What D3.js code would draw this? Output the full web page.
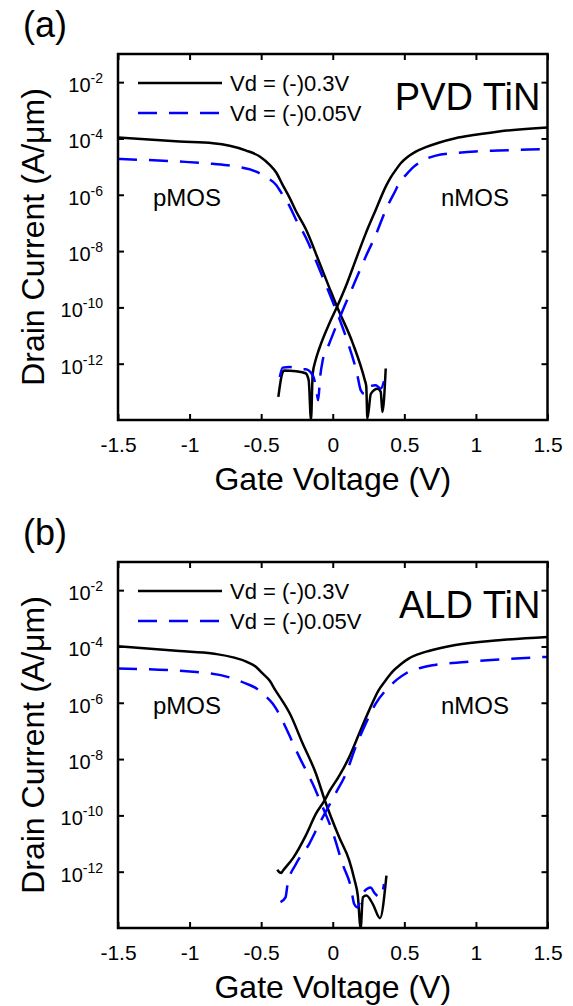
<!DOCTYPE html>
<html>
<head>
<meta charset="utf-8">
<script src="https://cdn.jsdelivr.net/npm/d3@7"></script>
<style>
body { margin: 0; background: #fff; }
text { font-family: "Liberation Sans", Arial, sans-serif; fill: #000; }
</style>
</head>
<body>
<div id="chart"></div>
<script>
// axis ticks and labels
var xTicks = [-1.5, -1, -0.5, 0, 0.5, 1, 1.5];
var yTickExp = [-2, -4, -6, -8, -10, -12];
var legendLabels = ["Vd = (-)0.3V", "Vd = (-)0.05V"];
var panelTags = ["(a)", "(b)"];
var panelNames = ["PVD TiN", "ALD TiN"];

// [gate voltage (V), log10 drain current (A/um)]
var pvdP03 = [[-1.5, -3.97], [-1.07, -4.11], [-0.836, -4.17], [-0.72, -4.26], [-0.604, -4.43], [-0.51, -4.64],
    [-0.44, -4.94], [-0.395, -5.21], [-0.35, -5.65], [-0.3, -6.12], [-0.26, -6.55], [-0.19, -7.2], [-0.09, -8.45],
    [-0.02, -9.35], [0.03, -9.98], [0.138, -11.25], [0.224, -12.59], [0.234, -12.8], [0.242, -13.95],
    [0.266, -13.07], [0.312, -12.89], [0.335, -13.0], [0.347, -13.72], [0.37, -12.17]];
var pvdP005 = [[-1.5, -4.73], [-1.07, -4.82], [-0.84, -4.9], [-0.674, -5.0], [-0.535, -5.18], [-0.454, -5.41],
    [-0.395, -5.65], [-0.35, -6.01], [-0.3, -6.42], [-0.26, -6.85], [-0.19, -7.5], [-0.09, -8.68], [0.0, -9.8],
    [0.092, -11.05], [0.17, -12.36], [0.196, -12.95], [0.22, -13.07], [0.24, -12.83], [0.3, -12.77],
    [0.335, -12.88], [0.365, -12.47]];
var pvdN03 = [[-0.38, -13.18], [-0.354, -12.36], [-0.34, -12.24], [-0.256, -12.27], [-0.19, -12.34],
    [-0.168, -12.59], [-0.152, -14.0], [-0.14, -12.36], [-0.12, -11.88], [-0.094, -11.46], [-0.024, -10.57],
    [0.03, -9.98], [0.09, -9.27], [0.16, -8.32], [0.23, -7.38], [0.3, -6.54], [0.37, -5.71], [0.405, -5.38],
    [0.44, -5.12], [0.475, -4.88], [0.52, -4.67], [0.58, -4.47], [0.65, -4.31], [0.74, -4.15], [0.857, -3.99],
    [0.997, -3.87], [1.16, -3.75], [1.5, -3.61]];
var pvdN005 = [[-0.37, -12.47], [-0.35, -12.14], [-0.3, -12.12], [-0.23, -12.2], [-0.19, -12.2], [-0.14, -12.41],
    [-0.117, -12.83], [-0.102, -13.3], [-0.088, -12.47], [-0.07, -11.88], [-0.024, -11.28], [0.022, -10.69],
    [0.09, -9.86], [0.16, -9.03], [0.23, -8.2], [0.3, -7.43], [0.37, -6.54], [0.44, -5.83], [0.463, -5.59],
    [0.51, -5.3], [0.567, -5.0], [0.625, -4.79], [0.72, -4.61], [0.857, -4.52], [0.997, -4.46], [1.16, -4.43],
    [1.5, -4.37]];

var aldP03 = [[-1.5, -3.99], [-1.07, -4.16], [-0.84, -4.25], [-0.6, -4.55], [-0.535, -4.73], [-0.49, -4.96],
    [-0.44, -5.22], [-0.4, -5.56], [-0.35, -5.95], [-0.3, -6.38], [-0.21, -7.45], [-0.117, -8.52],
    [-0.055, -9.47], [0.045, -10.78], [0.115, -11.6], [0.15, -12.25], [0.175, -12.85], [0.195, -14.0],
    [0.21, -12.91], [0.235, -12.85], [0.28, -13.15], [0.33, -13.65], [0.375, -12.14]];
var aldP005 = [[-1.5, -4.78], [-0.976, -4.9], [-0.72, -5.1], [-0.604, -5.32], [-0.53, -5.5], [-0.477, -5.73],
    [-0.42, -6.03], [-0.372, -6.42], [-0.33, -6.86], [-0.233, -7.93], [-0.14, -8.88], [-0.07, -9.71],
    [0.0, -10.6], [0.068, -11.72], [0.127, -12.56], [0.15, -13.15], [0.173, -13.27], [0.207, -12.79],
    [0.266, -12.56], [0.289, -12.74], [0.335, -12.91], [0.358, -12.44]];
var aldN03 = [[-0.388, -11.93], [-0.36, -12.05], [-0.35, -11.98], [-0.275, -11.5], [-0.187, -10.7],
    [-0.117, -9.94], [-0.055, -9.45], [-0.024, -9.15], [0.045, -8.6], [0.115, -7.93], [0.184, -7.1],
    [0.254, -6.27], [0.32, -5.56], [0.37, -5.2], [0.416, -4.9], [0.475, -4.63], [0.53, -4.43], [0.6, -4.27],
    [0.67, -4.16], [0.857, -3.95], [1.16, -3.78], [1.5, -3.66]];
var aldN005 = [[-0.365, -13.08], [-0.33, -12.91], [-0.315, -12.43], [-0.256, -11.72], [-0.164, -11.01],
    [-0.094, -10.3], [-0.05, -9.88], [0.022, -9.2], [0.092, -8.52], [0.16, -7.57], [0.23, -6.74], [0.3, -6.03],
    [0.393, -5.44], [0.45, -5.17], [0.51, -4.96], [0.6, -4.78], [0.695, -4.67], [0.927, -4.55], [1.16, -4.46],
    [1.5, -4.37]];

var panels = [
    { tag: panelTags[0], name: panelNames[0], top: 54, solid: [pvdP03, pvdN03], dashed: [pvdP005, pvdN005] },
    { tag: panelTags[1], name: panelNames[1], top: 562, solid: [aldP03, aldN03], dashed: [aldP005, aldN005] }
];

var left = 118,
    width = 429.5,
    height = 366;

var svg = d3.select("#chart").append("svg")
    .attr("width", 573)
    .attr("height", 1006)
    .style("background", "#fff");

var x = d3.scaleLinear().domain([-1.5, 1.5]).range([0, width]);
var y = d3.scaleLog().domain([1e-14, 1e-1]).range([height, 0]);

var line = d3.line()
    .curve(d3.curveMonotoneX)
    .x(function (d) { return x(d[0]); })
    .y(function (d) { return y(Math.pow(10, d[1])); });

panels.forEach(function (p, i) {
    var g = svg.append("g")
        .attr("transform", "translate(" + left + "," + p.top + ")");

    g.append("clipPath").attr("id", "clip" + i)
        .append("rect").attr("width", width).attr("height", height);

    // panel tag
    svg.append("text")
        .attr("x", 23)
        .attr("y", p.top - 17)
        .style("font-size", "36px")
        .text(p.tag);

    // axes, ticks pointing inward
    var yTicks = yTickExp.map(function (e) { return Math.pow(10, e); });
    var axes = [
        [d3.axisBottom(x).tickValues(xTicks), "translate(0," + height + ")"],
        [d3.axisTop(x).tickValues(xTicks), null],
        [d3.axisLeft(y).tickValues(yTicks), null],
        [d3.axisRight(y).tickValues(yTicks), "translate(" + width + ",0)"]
    ];
    axes.forEach(function (a, k) {
        var ax = g.append("g")
            .attr("transform", a[1])
            .call(a[0].tickSizeInner(-6).tickSizeOuter(0)
                .tickFormat(k === 0 ? function (d) { return String(d); } : ""));
        ax.select(".domain").remove();
        ax.selectAll(".tick line").attr("stroke", "#000").attr("stroke-width", 2);
        if (k === 0) {
            ax.selectAll(".tick text")
                .attr("y", 32).attr("dy", 0)
                .style("font-size", "21px")
                .attr("font-family", null)
                .attr("fill", "#000");
        }
    });

    // y tick labels with superscript exponents
    var yl = g.append("g").selectAll("text")
        .data(yTickExp)
        .enter().append("text")
        .attr("text-anchor", "end")
        .attr("x", -15)
        .attr("y", function (d) { return y(Math.pow(10, d)) + 10; })
        .style("font-size", "20px");
    yl.append("tspan").text("10");
    yl.append("tspan")
        .attr("dy", -9)
        .style("font-size", "14px")
        .text(function (d) { return "-" + Math.abs(d); });

    // curves
    var curves = g.append("g").attr("clip-path", "url(#clip" + i + ")");
    curves.selectAll(".solid")
        .data(p.solid)
        .enter().append("path")
        .attr("class", "solid")
        .attr("d", line)
        .attr("fill", "none")
        .attr("stroke", "#000")
        .attr("stroke-width", 2.5)
        .attr("stroke-linejoin", "round");
    curves.selectAll(".dashed")
        .data(p.dashed)
        .enter().append("path")
        .attr("class", "dashed")
        .attr("d", line)
        .attr("fill", "none")
        .attr("stroke", "#0000ff")
        .attr("stroke-width", 2.5)
        .attr("stroke-dasharray", "19,12");

    // box
    g.append("rect")
        .attr("width", width)
        .attr("height", height)
        .attr("fill", "none")
        .attr("stroke", "#000")
        .attr("stroke-width", 2.5);

    // legend
    var leg = g.selectAll(".legend")
        .data(legendLabels)
        .enter().append("g")
        .attr("class", "legend")
        .attr("transform", function (d, j) { return "translate(0," + (29 + j * 30) + ")"; });
    leg.append("line")
        .attr("x1", 20).attr("x2", 104)
        .attr("stroke", function (d, j) { return j ? "#0000ff" : "#000"; })
        .attr("stroke-width", 2.5)
        .attr("stroke-dasharray", function (d, j) { return j ? "19,12" : null; });
    leg.append("text")
        .attr("x", 112)
        .attr("y", 8)
        .style("font-size", "22px")
        .text(function (d) { return d; });

    g.append("text")
        .attr("x", width - 7)
        .attr("y", 56)
        .attr("text-anchor", "end")
        .style("font-size", "38px")
        .text(p.name);

    g.append("text").attr("x", 35).attr("y", 152).style("font-size", "24px").text("pMOS");
    g.append("text").attr("x", 323).attr("y", 152).style("font-size", "24px").text("nMOS");

    // axis titles
    g.append("text")
        .attr("x", width / 2)
        .attr("y", height + 70)
        .attr("text-anchor", "middle")
        .style("font-size", "32px")
        .text("Gate Voltage (V)");
    g.append("text")
        .attr("transform", "translate(" + (44 - left) + "," + (height / 2) + ") rotate(-90)")
        .attr("text-anchor", "middle")
        .style("font-size", "32px")
        .text("Drain Current (A/\u03bcm)");
});
</script>
</body>
</html>
